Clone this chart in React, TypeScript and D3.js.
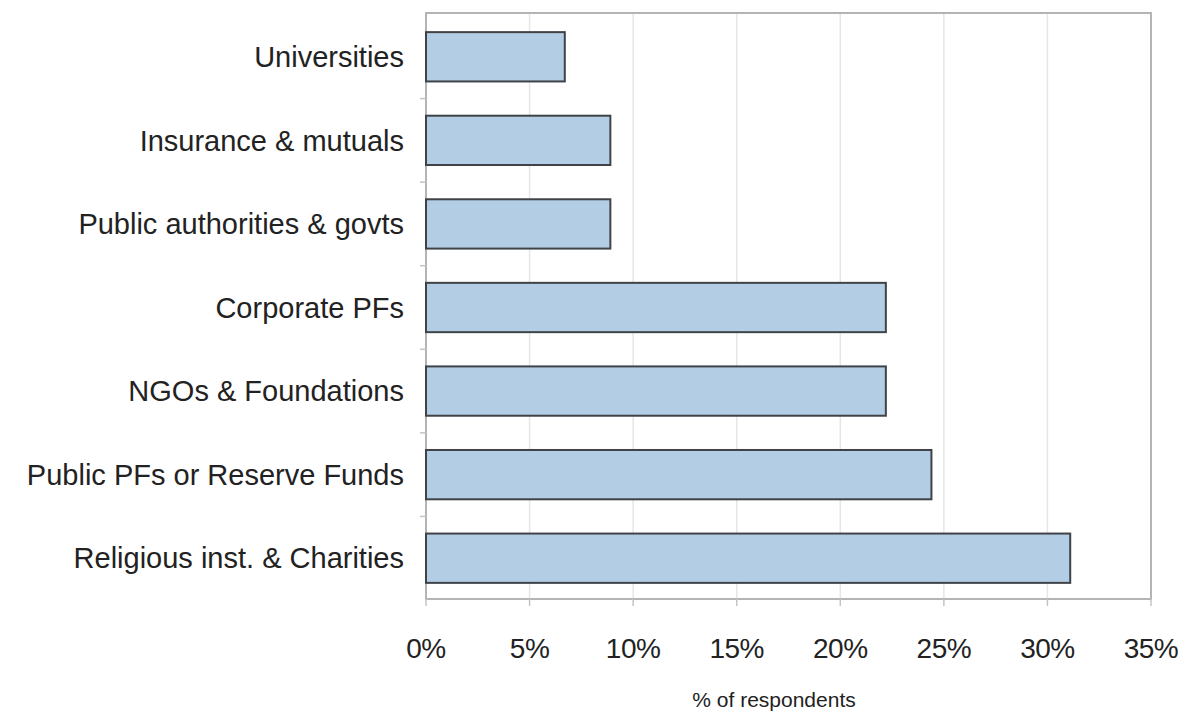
import React, { useEffect, useRef } from "react";
import * as d3 from "d3";

const categories = [
  "Universities",
  "Insurance & mutuals",
  "Public authorities & govts",
  "Corporate PFs",
  "NGOs & Foundations",
  "Public PFs or Reserve Funds",
  "Religious inst. & Charities",
];
const values = [6.7, 8.9, 8.9, 22.2, 22.2, 24.4, 31.1];
const xTicks = [0, 5, 10, 15, 20, 25, 30, 35];
const xTitle = "% of respondents";

const W = 1186;
const H = 719;
const M = { left: 426, right: 35, top: 13, bottom: 120 };

export default function App() {
  const ref = useRef<SVGSVGElement>(null);
  useEffect(() => {
    const svg = d3.select(ref.current);
    svg.selectAll("*").remove();
    const x = d3.scaleLinear().domain([0, 35]).range([M.left, W - M.right]);
    const y = d3
      .scaleBand()
      .domain(categories)
      .range([15, 600])
      .paddingInner(0.41)
      .paddingOuter(0.205);
    const font = "'Liberation Sans', Arial, sans-serif";

    // gridlines
    svg
      .append("g")
      .selectAll("line")
      .data(xTicks.slice(1, -1))
      .join("line")
      .attr("x1", (d) => x(d))
      .attr("x2", (d) => x(d))
      .attr("y1", M.top)
      .attr("y2", H - M.bottom)
      .attr("stroke", "#e6e6e6")
      .attr("stroke-width", 1.5);

    // frame
    svg
      .append("rect")
      .attr("x", M.left)
      .attr("y", M.top)
      .attr("width", W - M.right - M.left)
      .attr("height", H - M.bottom - M.top)
      .attr("fill", "none")
      .attr("stroke", "#b4b4b4")
      .attr("stroke-width", 2);

    // y minor ticks at band boundaries
    const step = y.step();
    const bounds = d3.range(1, categories.length).map((i) => y.range()[0] + i * step);
    svg
      .append("g")
      .selectAll("line")
      .data(bounds)
      .join("line")
      .attr("x1", M.left - 6)
      .attr("x2", M.left)
      .attr("y1", (d) => d)
      .attr("y2", (d) => d)
      .attr("stroke", "#c4c4c4")
      .attr("stroke-width", 1.5);

    // x ticks
    svg
      .append("g")
      .selectAll("line")
      .data(xTicks)
      .join("line")
      .attr("x1", (d) => x(d))
      .attr("x2", (d) => x(d))
      .attr("y1", H - M.bottom)
      .attr("y2", H - M.bottom + 7)
      .attr("stroke", "#c4c4c4")
      .attr("stroke-width", 1.5);

    // bars
    svg
      .append("g")
      .selectAll("rect")
      .data(categories)
      .join("rect")
      .attr("x", x(0))
      .attr("y", (d) => y(d)!)
      .attr("width", (d, i) => x(values[i]) - x(0))
      .attr("height", y.bandwidth())
      .attr("fill", "#b3cde4")
      .attr("stroke", "#3f4348")
      .attr("stroke-width", 2);

    // y labels
    svg
      .append("g")
      .selectAll("text")
      .data(categories)
      .join("text")
      .attr("x", 404)
      .attr("y", (d) => y(d)! + y.bandwidth() / 2)
      .attr("dy", "0.35em")
      .attr("text-anchor", "end")
      .attr("font-family", font)
      .attr("font-size", 29)
      .attr("fill", "#222")
      .text((d) => d);

    // x labels
    svg
      .append("g")
      .selectAll("text")
      .data(xTicks)
      .join("text")
      .attr("x", (d) => x(d))
      .attr("y", 658)
      .attr("text-anchor", "middle")
      .attr("font-family", font)
      .attr("font-size", 28)
      .attr("letter-spacing", "-0.5px")
      .attr("fill", "#222")
      .text((d) => `${d}%`);

    svg
      .append("text")
      .attr("x", 774)
      .attr("y", 707)
      .attr("text-anchor", "middle")
      .attr("font-family", font)
      .attr("font-size", 21)
      .attr("fill", "#222")
      .text(xTitle);
  }, []);
  return (
    <svg
      ref={ref}
      width={W}
      height={H}
      style={{ position: "absolute", left: 0, top: 0, background: "#fff" }}
    />
  );
}
